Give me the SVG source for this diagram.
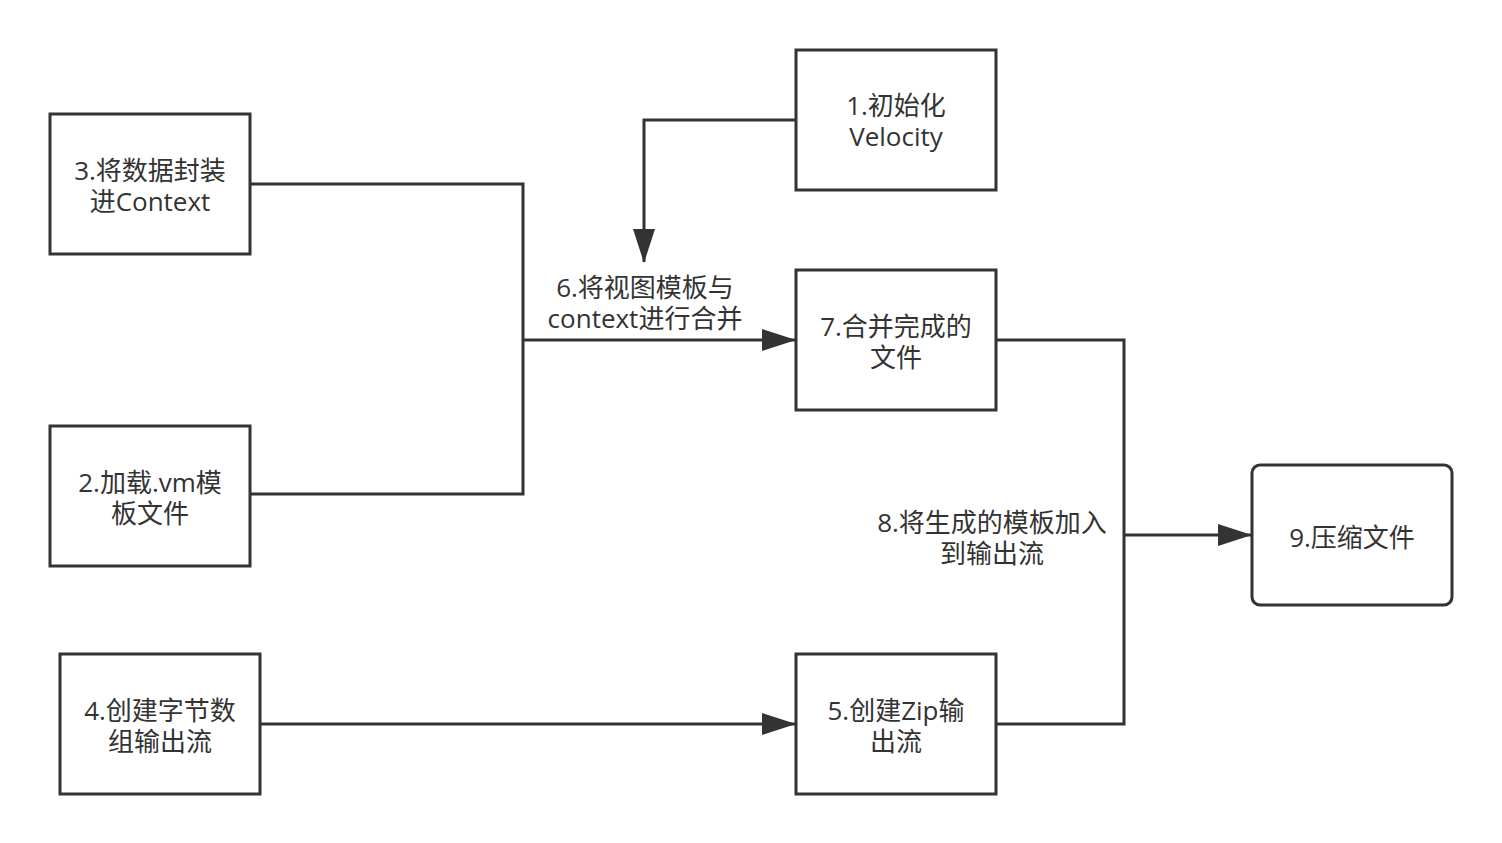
<svg xmlns="http://www.w3.org/2000/svg" width="1502" height="843" viewBox="0 0 1502 843">
<style>
.box{fill:#fff;stroke:#333;stroke-width:3}
.t{font-family:"Open Sans","Noto Sans CJK SC",sans-serif;font-size:26px;fill:#333;text-anchor:middle}
.c{fill:none;stroke:#333;stroke-width:3}
</style>
<defs>
<marker id="ah" markerUnits="userSpaceOnUse" markerWidth="34" markerHeight="24" refX="33" refY="12" orient="auto">
<path d="M0,1 L34,12 L0,23 Z" fill="#333"/>
</marker>
</defs>
<rect width="1502" height="843" fill="#fff"/>
<g id="connectors">
<polyline class="c" points="250,184 523,184 523,494 250,494"/>
<line class="c" x1="523" y1="340" x2="795" y2="340" marker-end="url(#ah)"/>
<polyline class="c" points="796,120 644,120 644,262" marker-end="url(#ah)"/>
<line class="c" x1="260" y1="724" x2="795" y2="724" marker-end="url(#ah)"/>
<polyline class="c" points="996,340 1124,340 1124,724 996,724"/>
<line class="c" x1="1124" y1="535" x2="1251" y2="535" marker-end="url(#ah)"/>
<text class="t" x="645" y="297">6.将视图模板与</text>
<text class="t" x="645" y="328">context进行合并</text>
<text class="t" x="992" y="532">8.将生成的模板加入</text>
<text class="t" x="992" y="563">到输出流</text>
</g>
<g id="n1"><rect class="box" x="796" y="50" width="200" height="140"/><text class="t" x="896" y="115">1.初始化</text><text class="t" x="896" y="146">Velocity</text></g>
<g id="n3"><rect class="box" x="50" y="114" width="200" height="140"/><text class="t" x="150" y="180">3.将数据封装</text><text class="t" x="150" y="211">进Context</text></g>
<g id="n7"><rect class="box" x="796" y="270" width="200" height="140"/><text class="t" x="896" y="336">7.合并完成的</text><text class="t" x="896" y="367">文件</text></g>
<g id="n2"><rect class="box" x="50" y="426" width="200" height="140"/><text class="t" x="150" y="492">2.加载.vm模</text><text class="t" x="150" y="523">板文件</text></g>
<g id="n9"><rect class="box" x="1252" y="465" width="200" height="140" rx="8"/><text class="t" x="1352" y="547">9.压缩文件</text></g>
<g id="n4"><rect class="box" x="60" y="654" width="200" height="140"/><text class="t" x="160" y="720">4.创建字节数</text><text class="t" x="160" y="751">组输出流</text></g>
<g id="n5"><rect class="box" x="796" y="654" width="200" height="140"/><text class="t" x="896" y="720">5.创建Zip输</text><text class="t" x="896" y="751">出流</text></g>
</svg>
